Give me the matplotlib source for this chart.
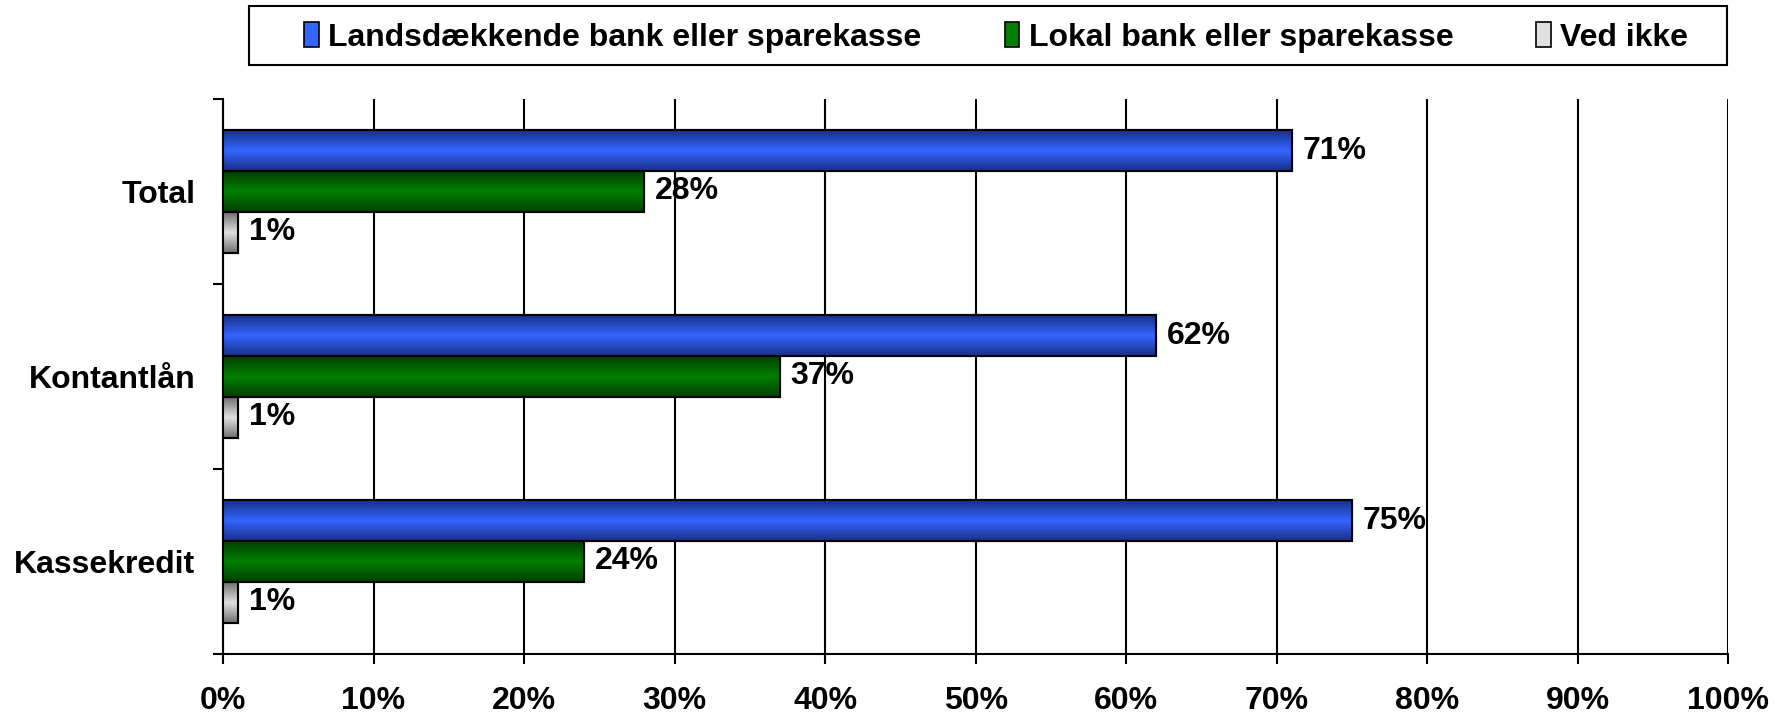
import numpy as np
import matplotlib.pyplot as plt
from matplotlib.patches import Patch, Rectangle
from matplotlib.colors import LinearSegmentedColormap

categories = ["Total", "Kontantlån", "Kassekredit"]
series_names = ["Landsdækkende bank eller sparekasse", "Lokal bank eller sparekasse", "Ved ikke"]
landsdaekkende = [71, 62, 75]
lokal = [28, 37, 24]
ved_ikke = [1, 1, 1]
x_ticks = [0, 10, 20, 30, 40, 50, 60, 70, 80, 90, 100]

plt.rcParams['font.family'] = ['Liberation Sans', 'DejaVu Sans']
plt.rcParams['font.weight'] = 'bold'
FS = 23

# (edge colour, centre colour) for the gradient fills
colors = [("#1a2f8a", "#3366ff"), ("#004000", "#008000"), ("#707070", "#e0e0e0")]

fig = plt.figure(figsize=(17.91, 7.2), dpi=100)
ax = fig.add_axes([0.1245, 0.0917, 0.8405, 0.7708])

y = np.arange(len(categories))
h = 0.22
offsets = [-h, 0, h]
all_values = [landsdaekkende, lokal, ved_ikke]

for vals, off, (edge_c, mid_c) in zip(all_values, offsets, colors):
    bars = ax.barh(y + off, vals, height=h, color=mid_c, edgecolor='black', linewidth=1.5, zorder=3)
    cmap = LinearSegmentedColormap.from_list("g", [edge_c, mid_c, edge_c])
    grad = np.linspace(0, 1, 64).reshape(-1, 1)
    for b, v in zip(bars, vals):
        x0, y0 = b.get_x(), b.get_y()
        im = ax.imshow(grad, cmap=cmap, aspect='auto', extent=(x0, x0 + b.get_width(), y0 + b.get_height(), y0), zorder=3.5, interpolation='bicubic')
        im.set_clip_path(b)
        ax.barh(b.get_y() + b.get_height() / 2, v, height=h, fill=False, edgecolor='black', linewidth=1.5, zorder=4)
        ax.text(v + 0.7, b.get_y() + b.get_height() / 2, f"{v}%", va='center', ha='left', fontsize=FS, fontweight='bold', zorder=5)

ax.set_xlim(0, 100)
ax.set_ylim(len(categories) - 0.5, -0.5)
ax.set_xticks(x_ticks)
ax.set_xticklabels([f"{t}%" for t in x_ticks], fontsize=FS, fontweight='bold')
ax.set_yticks(y)
ax.set_yticklabels(categories, fontsize=FS, fontweight='bold')
ax.tick_params(axis='y', length=0, pad=20)
ax.set_yticks(np.arange(-0.5, len(categories)), minor=True)
ax.tick_params(axis='y', which='minor', length=7, width=1.5, direction='out')
ax.tick_params(axis='x', length=7, width=1.5, direction='out', pad=16)
ax.xaxis.grid(True, color='black', linewidth=1.5, zorder=0)
ax.set_axisbelow(True)
for s in ['top', 'right']:
    ax.spines[s].set_visible(False)
for s in ['left', 'bottom']:
    ax.spines[s].set_linewidth(1.5)

# legend box (frame drawn separately so it can be wider than the entries)
fig.patches.append(Rectangle((0.139, 0.9097), 0.8253, 0.0819, transform=fig.transFigure,
                             facecolor='white', edgecolor='black', linewidth=1.5, zorder=0))
handles = [Patch(facecolor=c[1], edgecolor='black', linewidth=1.2) for c in colors]
leg = fig.legend(handles, series_names, loc='center', bbox_to_anchor=(0.5563, 0.948),
                 ncol=3, frameon=False, fontsize=FS,
                 handlelength=0.45, handleheight=0.8, handletextpad=0.3, columnspacing=2.6,
                 borderpad=0.3, borderaxespad=0)
for t in leg.get_texts():
    t.set_fontweight('bold')

fig.savefig("out.png", dpi=100)
